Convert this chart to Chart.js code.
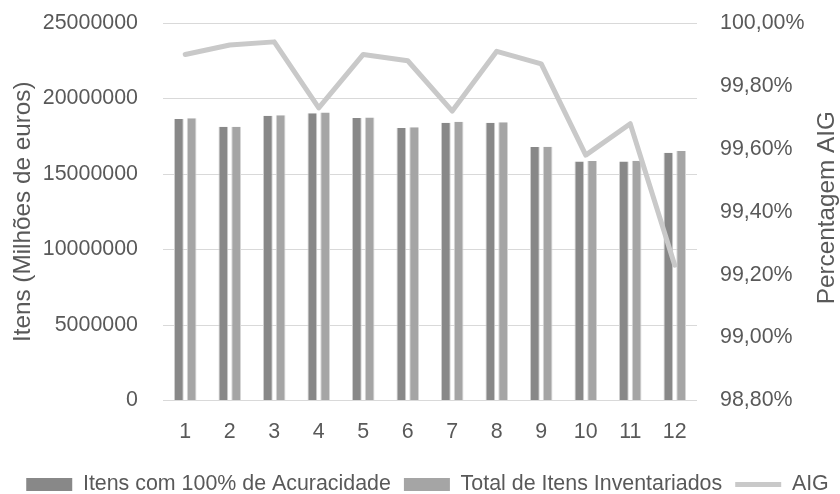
<!DOCTYPE html>
<html>
<head>
<meta charset="utf-8">
<script src="https://cdn.jsdelivr.net/npm/chart.js@4.4.1/dist/chart.umd.min.js"></script>
<style>
  html, body { margin: 0; padding: 0; background: #ffffff; }
  canvas { display: block; }
</style>
</head>
<body>
<canvas id="chart" width="840" height="494"></canvas>
<script>
// Months of the year
const months = ['1', '2', '3', '4', '5', '6', '7', '8', '9', '10', '11', '12'];

// Items with 100% accuracy
const itensAcuracidade = [18640000, 18130000, 18860000, 19020000, 18710000, 18050000,
                          18400000, 18400000, 16790000, 15820000, 15820000, 16410000];

// Total of inventoried items
const itensInventariados = [18690000, 18130000, 18890000, 19080000, 18750000, 18090000,
                            18460000, 18420000, 16810000, 15860000, 15880000, 16520000];

// AIG percentage
const aig = [99.90, 99.93, 99.94, 99.73, 99.90, 99.88, 99.72, 99.91, 99.87, 99.58, 99.68, 99.23];

// Axis ticks
const leftTicks = [0, 5000000, 10000000, 15000000, 20000000, 25000000];
const rightTicks = [98.8, 99.0, 99.2, 99.4, 99.6, 99.8, 100.0];

const rightTitle = 'Percentagem AIG';

const TEXT = '#595959';
const FONT = '"Liberation Sans", Arial, sans-serif';

// Places the legend row under the plot
const legendPlacement = {
  id: 'legendPlacement',
  afterLayout(chart) {
    const lg = chart.legend;
    if (!lg) return;
    const pad = lg.options.labels.padding;
    const fs = lg.options.labels.font.size;
    const h = lg.height, w = lg.width;
    lg.top = 484.5 - pad - fs / 2;
    lg.bottom = lg.top + h;
    lg.left = 427.5 - w / 2;
    lg.right = lg.left + w;
  }
};

// Right axis title, reading upwards like the left one
const rightAxisTitle = {
  id: 'rightAxisTitle',
  afterDraw(chart) {
    const s = chart.scales.y1;
    const ctx = chart.ctx;
    ctx.save();
    ctx.translate(s.right - 13, (s.top + s.bottom) / 2 - 4);
    ctx.rotate(-Math.PI / 2);
    ctx.fillStyle = TEXT;
    ctx.font = '24.3px ' + FONT;
    ctx.textAlign = 'center';
    ctx.textBaseline = 'middle';
    ctx.fillText(rightTitle, 0, 0);
    ctx.restore();
  }
};

// Vertical axes: fixed width, no extra room reserved above/below the plot
function fitVertical(width) {
  return scale => {
    scale.width = width;
    scale.paddingTop = 0;
    scale.paddingBottom = 0;
  };
}

new Chart(document.getElementById('chart'), {
  type: 'bar',
  data: {
    labels: months,
    datasets: [
      {
        label: 'Itens com 100% de Acuracidade',
        data: itensAcuracidade,
        backgroundColor: '#888888',
        borderColor: '#cfcfcf',
        borderWidth: { left: 1, right: 1, top: 0, bottom: 0 },
        borderSkipped: false,
        pointStyle: 'rect',
        yAxisID: 'y',
        order: 1,
        categoryPercentage: 0.575,
        barPercentage: 0.76
      },
      {
        label: 'Total de Itens Inventariados',
        data: itensInventariados,
        backgroundColor: '#a5a5a5',
        borderColor: '#d6d6d6',
        borderWidth: { left: 1, right: 1, top: 0, bottom: 0 },
        borderSkipped: false,
        pointStyle: 'rect',
        yAxisID: 'y',
        order: 1,
        categoryPercentage: 0.575,
        barPercentage: 0.76
      },
      {
        type: 'line',
        label: 'AIG',
        data: aig,
        borderColor: '#c9c9c9',
        backgroundColor: '#c9c9c9',
        borderWidth: 5,
        borderCapStyle: 'round',
        borderJoinStyle: 'round',
        pointRadius: 0,
        pointHoverRadius: 0,
        pointBorderWidth: 5,
        pointStyle: 'line',
        tension: 0,
        fill: false,
        yAxisID: 'y1',
        order: 0
      }
    ]
  },
  options: {
    responsive: false,
    animation: false,
    devicePixelRatio: 1,
    layout: { padding: { top: 23, left: 0, right: 0, bottom: 0 } },
    plugins: {
      tooltip: { enabled: false },
      legend: {
        position: 'bottom',
        maxHeight: 40,
        labels: {
          usePointStyle: true,
          pointStyleWidth: 46,
          boxHeight: 13,
          padding: 13,
          color: TEXT,
          font: { family: FONT, size: 21.4 },
          sort: (a, b) => a.datasetIndex - b.datasetIndex,
          generateLabels(chart) {
            const items = Chart.defaults.plugins.legend.labels.generateLabels(chart);
            items.forEach(it => {
              const ds = chart.data.datasets[it.datasetIndex];
              if (ds.type === 'line') {
                it.lineWidth = 5;
                it.strokeStyle = ds.borderColor;
                it.lineCap = 'butt';
              } else {
                it.lineWidth = 0;
                it.fillStyle = ds.backgroundColor;
              }
            });
            return items;
          }
        }
      }
    },
    scales: {
      x: {
        grid: { display: false, drawTicks: false },
        border: { display: false },
        ticks: { color: TEXT, font: { family: FONT, size: 21.4 }, padding: 18.7 },
        afterFit(scale) { scale.height = 53.5; }
      },
      y: {
        position: 'left',
        min: leftTicks[0],
        max: leftTicks[leftTicks.length - 1],
        afterBuildTicks(scale) { scale.ticks = leftTicks.map(v => ({ value: v })); },
        grid: { color: '#d9d9d9', lineWidth: 1, drawTicks: false },
        border: { display: false },
        ticks: {
          color: TEXT,
          font: { family: FONT, size: 21.4 },
          padding: 25,
          callback: v => String(v)
        },
        title: {
          display: true,
          text: 'Itens (Milhões de euros)',
          color: TEXT,
          font: { family: FONT, size: 24.3, lineHeight: 1 },
          padding: { top: 10.85, bottom: 0 }
        },
        afterFit: fitVertical(163)
      },
      y1: {
        position: 'right',
        min: rightTicks[0],
        max: rightTicks[rightTicks.length - 1],
        afterBuildTicks(scale) { scale.ticks = rightTicks.map(v => ({ value: v })); },
        grid: { display: false, drawTicks: false },
        border: { display: false },
        ticks: {
          color: TEXT,
          font: { family: FONT, size: 21.4 },
          padding: 23,
          callback: v => v.toFixed(2).replace('.', ',') + '%'
        },
        afterFit: fitVertical(143)
      }
    }
  },
  plugins: [legendPlacement, rightAxisTitle]
});
</script>
</body>
</html>
